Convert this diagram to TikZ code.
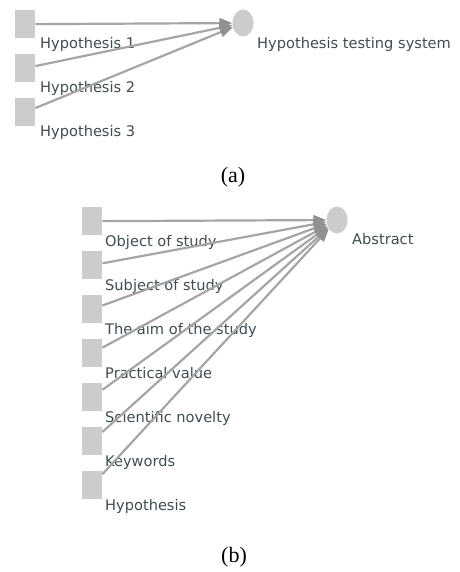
\documentclass[tikz,border=0pt]{standalone}
\usepackage{fontspec}
\setmainfont{Liberation Serif}
\newfontfamily\lblfont{DejaVu Sans}
\usetikzlibrary{arrows.meta,shapes.geometric}
\definecolor{boxgray}{RGB}{204,204,204}
\definecolor{linegray}{RGB}{165,165,165}
\definecolor{headgray}{RGB}{145,145,145}
\definecolor{txt}{RGB}{62,76,82}
\begin{document}
\begin{tikzpicture}[x=1pt,y=-1pt,
 sq/.style={rectangle,fill=boxgray,minimum width=20pt,minimum height=28pt,inner sep=0pt,anchor=north west},
 hub/.style={ellipse,fill=boxgray,minimum width=21pt,minimum height=27pt,inner sep=0pt},
 lbl/.style={anchor=base west,inner sep=0pt,text=txt,font=\lblfont\fontsize{14.6}{16}\selectfont},
 link/.style={draw=linegray,line width=2.2pt,-{Triangle[length=13pt,width=10pt,fill=headgray,color=headgray]}},
 capt/.style={inner sep=0pt,font=\fontsize{22}{26}\selectfont}]
\useasboundingbox (0,0) rectangle (459,572);
% ---- (a)
\node[sq] (a1) at (15,10) {};
\node[sq] (a2) at (15,54) {};
\node[sq] (a3) at (15,98) {};
\node[hub] (ac) at (243,23) {};
\node[lbl] (la1) at (40,48.5) {Hypothesis 1};
\node[lbl] (la2) at (40,92.5) {Hypothesis 2};
\node[lbl] (la3) at (40,136.5) {Hypothesis 3};
\node[lbl] (lac) at (257,49) {Hypothesis testing system};
\foreach \i in {1,2,3} \draw[link] (a\i) -- (ac);
\node[capt] (capa) at (233,177) {(a)};
% ---- (b)
\foreach \i in {1,...,7} \node[sq] (b\i) at (82,{207+44*(\i-1)}) {};
\node[hub] (bc) at (337,220) {};
\node[lbl] (lb1) at (105,246) {Object of study};
\node[lbl] (lb2) at (105,290) {Subject of study};
\node[lbl] (lb3) at (105,334) {The aim of the study};
\node[lbl] (lb4) at (105,378) {Practical value};
\node[lbl] (lb5) at (105,422) {Scientific novelty};
\node[lbl] (lb6) at (105,466) {Keywords};
\node[lbl] (lb7) at (105,510) {Hypothesis};
\node[lbl] (lbc) at (352,244) {Abstract};
\foreach \i in {1,...,7} \draw[link] (b\i) -- (bc);
\node[capt] (capb) at (234,557) {(b)};
\end{tikzpicture}
\end{document}
